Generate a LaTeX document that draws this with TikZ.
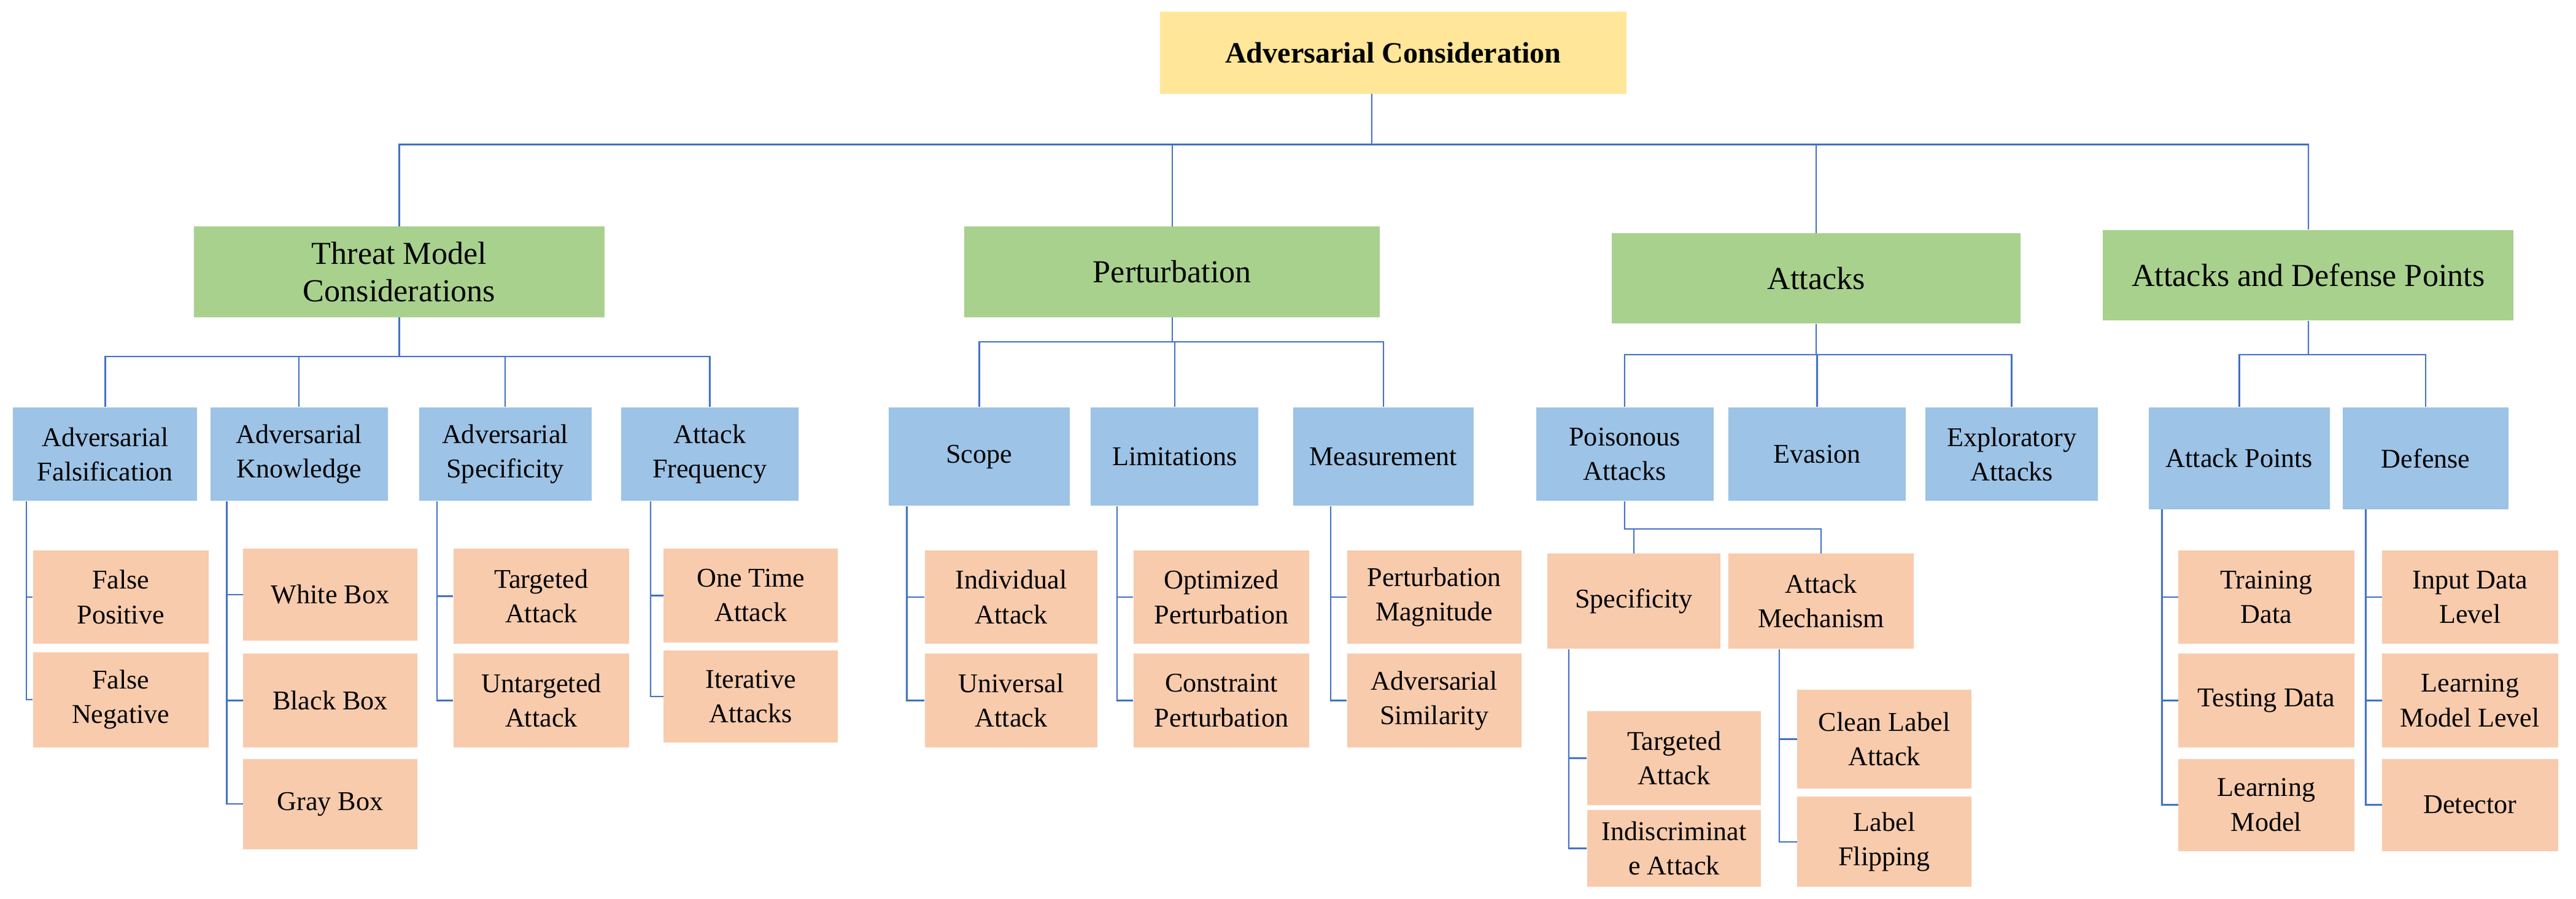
\documentclass[tikz,border=0pt]{standalone}
\usepackage{fontspec}
\setmainfont{Liberation Serif}
\definecolor{yel}{HTML}{FFE699}
\definecolor{grn}{HTML}{A9D18E}
\definecolor{blu}{HTML}{9DC3E6}
\definecolor{pch}{HTML}{F8CBAD}
\definecolor{lnc}{HTML}{4472C4}
\newcommand\bx[7]{\node[#6,minimum width={(#4-#2)*1pt},minimum height={(#5-#3)*1pt}] (#1) at ({(#2+#4)/2},{(#3+#5)/2}) {#7};}
\begin{document}
\begin{tikzpicture}[x=1pt,y=-1pt,
 b/.style={inner sep=1pt,align=center,font=\fontsize{16.5}{21}\selectfont},
 r/.style={b,fill=yel,font=\fontsize{18}{21}\selectfont\bfseries},
 g/.style={b,fill=grn,font=\fontsize{19.5}{23}\selectfont},
 l/.style={b,fill=blu},
 p/.style={b,fill=pch},
 ln/.style={draw=lnc,line width=0.9pt}]
\useasboundingbox (0,0) rectangle (1568,547);
\bx{root}{706}{7}{990}{57}{r}{Adversarial Consideration}
\coordinate (rd) at (835,57);
\bx{tm}{118}{138}{368}{193}{g}{Threat Model\\Considerations}
\bx{pe}{587}{138}{840}{193}{g}{Perturbation}
\bx{at}{981}{142}{1230}{197}{g}{Attacks}
\bx{ad}{1280}{140}{1530}{195}{g}{Attacks and Defense Points}
\foreach \c in {tm,pe,at,ad}{\draw[ln] (rd) -- (rd |- 0,88) -| (\c.north);}
% level 2
\bx{af}{8}{248}{120}{305}{l}{Adversarial\\Falsification}
\bx{ak}{128}{248}{236}{305}{l}{Adversarial\\Knowledge}
\bx{as}{255}{248}{360}{305}{l}{Adversarial\\Specificity}
\bx{fr}{378}{248}{486}{305}{l}{Attack\\Frequency}
\foreach \c in {af,ak,as,fr}{\draw[ln] (tm.south) -- (tm.south |- 0,217) -| (\c.north);}
\bx{sc}{541}{248}{651}{308}{l}{Scope}
\bx{li}{664}{248}{766}{308}{l}{Limitations}
\bx{me}{787}{248}{897}{308}{l}{Measurement}
\foreach \c in {sc,li,me}{\draw[ln] (pe.south) -- (pe.south |- 0,208) -| (\c.north);}
\bx{po}{935}{248}{1043}{305}{l}{Poisonous\\Attacks}
\bx{ev}{1052}{248}{1160}{305}{l}{Evasion}
\bx{ex}{1172}{248}{1277}{305}{l}{Exploratory\\Attacks}
\foreach \c in {po,ev,ex}{\draw[ln] (at.south) -- (at.south |- 0,216) -| (\c.north);}
\bx{ap}{1308}{248}{1418}{310}{l}{Attack Points}
\bx{de}{1426}{248}{1527}{310}{l}{Defense}
\foreach \c in {ap,de}{\draw[ln] (ad.south) -- (ad.south |- 0,216) -| (\c.north);}
% level 3
\bx{fp}{20}{335}{127}{392}{p}{False\\Positive}
\bx{fn}{20}{397}{127}{455}{p}{False\\Negative}
\foreach \c in {fp,fn}{\draw[ln] (af.south -| 16,0) |- (\c.west);}
\bx{wb}{148}{334}{254}{390}{p}{White Box}
\bx{bb}{148}{398}{254}{455}{p}{Black Box}
\bx{gb}{148}{462}{254}{517}{p}{Gray Box}
\foreach \c in {wb,bb,gb}{\draw[ln] (ak.south -| 138,0) |- (\c.west);}
\bx{ta}{276}{334}{383}{392}{p}{Targeted\\Attack}
\bx{ua}{276}{398}{383}{455}{p}{Untargeted\\Attack}
\foreach \c in {ta,ua}{\draw[ln] (as.south -| 266,0) |- (\c.west);}
\bx{ot}{404}{334}{510}{391}{p}{One Time\\Attack}
\bx{it}{404}{396}{510}{452}{p}{Iterative\\Attacks}
\foreach \c in {ot,it}{\draw[ln] (fr.south -| 396,0) |- (\c.west);}
\bx{ia}{563}{335}{668}{392}{p}{Individual\\Attack}
\bx{va}{563}{398}{668}{455}{p}{Universal\\Attack}
\foreach \c in {ia,va}{\draw[ln] (sc.south -| 552,0) |- (\c.west);}
\bx{op}{690}{335}{797}{392}{p}{Optimized\\Perturbation}
\bx{cp}{690}{398}{797}{455}{p}{Constraint\\Perturbation}
\foreach \c in {op,cp}{\draw[ln] (li.south -| 680,0) |- (\c.west);}
\bx{pm}{820}{335}{926}{392}{p}{Perturbation\\Magnitude}
\bx{sm}{820}{398}{926}{455}{p}{Adversarial\\Similarity}
\foreach \c in {pm,sm}{\draw[ln] (me.south -| 810,0) |- (\c.west);}
\bx{sp}{942}{337}{1047}{395}{p}{Specificity}
\bx{am}{1052}{337}{1165}{395}{p}{Attack\\Mechanism}
\foreach \c in {sp,am}{\draw[ln] (po.south) -- (po.south |- 0,322) -| (\c.north);}
\bx{tt}{966}{433}{1072}{490}{p}{Targeted\\Attack}
\bx{ii}{966}{493}{1072}{540}{p}{Indiscriminat\\e Attack}
\foreach \c in {tt,ii}{\draw[ln] (sp.south -| 955,0) |- (\c.west);}
\bx{cl}{1094}{420}{1200}{480}{p}{Clean Label\\Attack}
\bx{lf}{1094}{485}{1200}{540}{p}{Label\\Flipping}
\foreach \c in {cl,lf}{\draw[ln] (am.south -| 1083,0) |- (\c.west);}
\bx{td}{1326}{335}{1433}{392}{p}{Training\\Data}
\bx{sd}{1326}{398}{1433}{455}{p}{Testing Data}
\bx{lm}{1326}{462}{1433}{518}{p}{Learning\\Model}
\foreach \c in {td,sd,lm}{\draw[ln] (ap.south -| 1316,0) |- (\c.west);}
\bx{id}{1450}{335}{1557}{392}{p}{Input Data\\Level}
\bx{ml}{1450}{398}{1557}{455}{p}{Learning\\Model Level}
\bx{dt}{1450}{462}{1557}{518}{p}{Detector}
\foreach \c in {id,ml,dt}{\draw[ln] (de.south -| 1440,0) |- (\c.west);}
\end{tikzpicture}
\end{document}
